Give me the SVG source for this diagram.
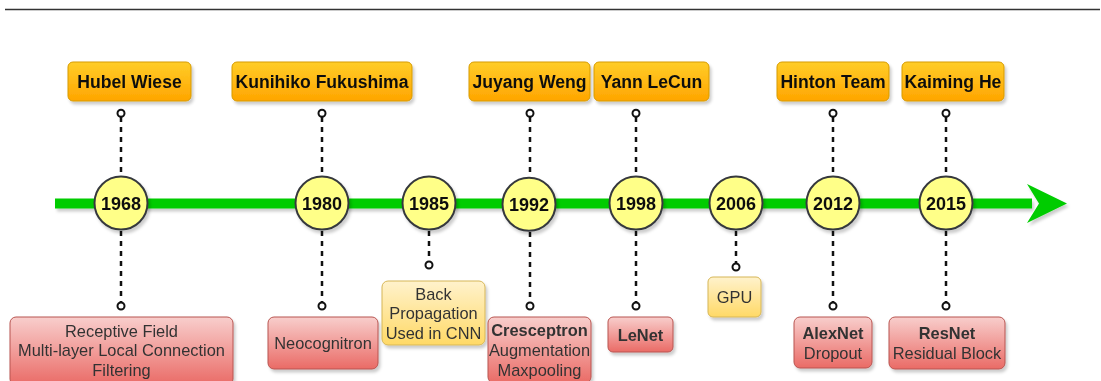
<svg xmlns="http://www.w3.org/2000/svg" width="1101" height="381" viewBox="0 0 1101 381">
<defs>
  <linearGradient id="gOrange" x1="0" y1="0" x2="0" y2="1"><stop offset="0" stop-color="#ffcd28"/><stop offset="1" stop-color="#ffa500"/></linearGradient>
  <linearGradient id="gRed" x1="0" y1="0" x2="0" y2="1"><stop offset="0" stop-color="#f8cecc"/><stop offset="1" stop-color="#ea6b66"/></linearGradient>
  <linearGradient id="gYel" x1="0" y1="0" x2="0" y2="1"><stop offset="0" stop-color="#fff2cc"/><stop offset="1" stop-color="#ffd966"/></linearGradient>
  <filter id="sh" x="-20%" y="-20%" width="150%" height="160%">
    <feGaussianBlur in="SourceAlpha" stdDeviation="1.5"/>
    <feOffset dx="2" dy="3" result="b"/>
    <feFlood flood-color="#000" flood-opacity="0.2"/>
    <feComposite in2="b" operator="in"/>
    <feMerge><feMergeNode/><feMergeNode in="SourceGraphic"/></feMerge>
  </filter>
</defs>
<style>
  .top rect{fill:url(#gOrange);stroke:#d79b00;stroke-width:1}
  .top text{font-family:"Liberation Sans",Arial,sans-serif;font-weight:bold;font-size:17.6px;fill:#111;text-anchor:middle}
  .red rect{fill:url(#gRed);stroke:#b85450;stroke-width:1}
  .yel rect{fill:url(#gYel);stroke:#d6b656;stroke-width:1}
  .bot text{font-family:"Liberation Sans",Arial,sans-serif;font-size:16.4px;fill:#333;text-anchor:middle}
  .bot text.b{font-weight:bold}
  .yr circle{fill:#ffff88;stroke:#36393d;stroke-width:2}
  .yr text{font-family:"Liberation Sans",Arial,sans-serif;font-weight:bold;font-size:18px;fill:#111;text-anchor:middle}
  .dl{stroke:#111;stroke-width:2.5;stroke-dasharray:5 5;fill:none}
  .pin{fill:#fff;stroke:#111;stroke-width:2}
</style>

<line x1="5" y1="9.5" x2="1100" y2="9.5" stroke="#333" stroke-width="1.5"/>

<g id="connectors">
  <g filter="url(#sh)">
    <line x1="55" y1="203.5" x2="1032" y2="203.5" stroke="#00cc00" stroke-width="10"/>
    <polygon points="1027,184 1067,203.5 1027,223 1039,203.5" fill="#00cc00"/>
  </g>
  <!-- top pins -->
  <line class="dl" x1="121" y1="117" x2="121" y2="176"/><circle class="pin" cx="121" cy="113.3" r="3.5"/>
  <line class="dl" x1="322" y1="117" x2="322" y2="176"/><circle class="pin" cx="322" cy="113.3" r="3.5"/>
  <line class="dl" x1="530" y1="117" x2="530" y2="177"/><circle class="pin" cx="530" cy="113.3" r="3.5"/>
  <line class="dl" x1="636" y1="117" x2="636" y2="176"/><circle class="pin" cx="636" cy="113.3" r="3.5"/>
  <line class="dl" x1="833" y1="117" x2="833" y2="176"/><circle class="pin" cx="833" cy="113.3" r="3.5"/>
  <line class="dl" x1="946" y1="117" x2="946" y2="176"/><circle class="pin" cx="946" cy="113.3" r="3.5"/>
  <!-- bottom pins -->
  <line class="dl" x1="121" y1="231" x2="121" y2="302"/><circle class="pin" cx="121" cy="306" r="3.5"/>
  <line class="dl" x1="322" y1="231" x2="322" y2="302"/><circle class="pin" cx="322" cy="306" r="3.5"/>
  <line class="dl" x1="429" y1="231" x2="429" y2="261"/><circle class="pin" cx="429" cy="265" r="3.5"/>
  <line class="dl" x1="530" y1="232" x2="530" y2="302"/><circle class="pin" cx="530" cy="306" r="3.5"/>
  <line class="dl" x1="636" y1="231" x2="636" y2="302"/><circle class="pin" cx="636" cy="306" r="3.5"/>
  <line class="dl" x1="736" y1="231" x2="736" y2="263"/><circle class="pin" cx="736" cy="267" r="3.5"/>
  <line class="dl" x1="833" y1="231" x2="833" y2="302"/><circle class="pin" cx="833" cy="306" r="3.5"/>
  <line class="dl" x1="946" y1="231" x2="946" y2="302"/><circle class="pin" cx="946" cy="306" r="3.5"/>
</g>

<!-- top names -->
<g id="n-hubel" class="top" filter="url(#sh)"><rect x="68" y="62" width="123" height="39" rx="5"/><text x="129.5" y="88">Hubel Wiese</text></g>
<g id="n-kunihiko" class="top" filter="url(#sh)"><rect x="232" y="62" width="180" height="39" rx="5"/><text x="322" y="88">Kunihiko Fukushima</text></g>
<g id="n-juyang" class="top" filter="url(#sh)"><rect x="469" y="62" width="121" height="39" rx="5"/><text x="529.5" y="88">Juyang Weng</text></g>
<g id="n-yann" class="top" filter="url(#sh)"><rect x="594" y="62" width="115" height="39" rx="5"/><text x="651.5" y="88">Yann LeCun</text></g>
<g id="n-hinton" class="top" filter="url(#sh)"><rect x="777" y="62" width="112" height="39" rx="5"/><text x="833" y="88">Hinton Team</text></g>
<g id="n-kaiming" class="top" filter="url(#sh)"><rect x="902" y="62" width="102" height="39" rx="5"/><text x="953" y="88">Kaiming He</text></g>

<!-- years -->
<g id="y1968" class="yr" filter="url(#sh)"><circle cx="121" cy="203" r="26.5"/><text x="121" y="209.5">1968</text></g>
<g id="y1980" class="yr" filter="url(#sh)"><circle cx="322" cy="203" r="26.5"/><text x="322" y="209.5">1980</text></g>
<g id="y1985" class="yr" filter="url(#sh)"><circle cx="429" cy="203" r="26.5"/><text x="429" y="209.5">1985</text></g>
<g id="y1992" class="yr" filter="url(#sh)"><circle cx="529" cy="204.3" r="26.5"/><text x="529" y="211">1992</text></g>
<g id="y1998" class="yr" filter="url(#sh)"><circle cx="636" cy="203" r="26.5"/><text x="636" y="209.5">1998</text></g>
<g id="y2006" class="yr" filter="url(#sh)"><circle cx="736" cy="203" r="26.5"/><text x="736" y="209.5">2006</text></g>
<g id="y2012" class="yr" filter="url(#sh)"><circle cx="833" cy="203" r="26.5"/><text x="833" y="209.5">2012</text></g>
<g id="y2015" class="yr" filter="url(#sh)"><circle cx="946" cy="203" r="26.5"/><text x="946" y="209.5">2015</text></g>

<!-- bottom contributions -->
<g id="b-receptive" class="bot red" filter="url(#sh)"><rect x="10" y="317" width="223" height="68" rx="6"/><text x="121.5" y="336.5">Receptive Field</text><text x="121.5" y="356.3">Multi-layer Local Connection</text><text x="121.5" y="375.8">Filtering</text></g>
<g id="b-neocognitron" class="bot red" filter="url(#sh)"><rect x="268" y="317" width="110" height="52" rx="6"/><text x="323" y="349">Neocognitron</text></g>
<g id="b-backprop" class="bot yel" filter="url(#sh)"><rect x="382" y="281" width="103" height="64" rx="6"/><text x="433.5" y="299.5">Back</text><text x="433.5" y="319">Propagation</text><text x="433.5" y="338.5">Used in CNN</text></g>
<g id="b-cresceptron" class="bot red" filter="url(#sh)"><rect x="488" y="317" width="103" height="66" rx="6"/><text class="b" x="539.5" y="336">Cresceptron</text><text x="539.5" y="355.7">Augmentation</text><text x="539.5" y="375.5">Maxpooling</text></g>
<g id="b-lenet" class="bot red" filter="url(#sh)"><rect x="608" y="317" width="65" height="35" rx="5"/><text class="b" x="640.5" y="341">LeNet</text></g>
<g id="b-gpu" class="bot yel" filter="url(#sh)"><rect x="708" y="277" width="53" height="40" rx="5"/><text x="734.5" y="302.5">GPU</text></g>
<g id="b-alexnet" class="bot red" filter="url(#sh)"><rect x="794" y="317" width="78" height="51" rx="6"/><text class="b" x="833" y="339">AlexNet</text><text x="833" y="358.7">Dropout</text></g>
<g id="b-resnet" class="bot red" filter="url(#sh)"><rect x="889" y="317" width="116" height="52" rx="6"/><text class="b" x="947" y="339">ResNet</text><text x="947" y="358.7">Residual Block</text></g>
</svg>
